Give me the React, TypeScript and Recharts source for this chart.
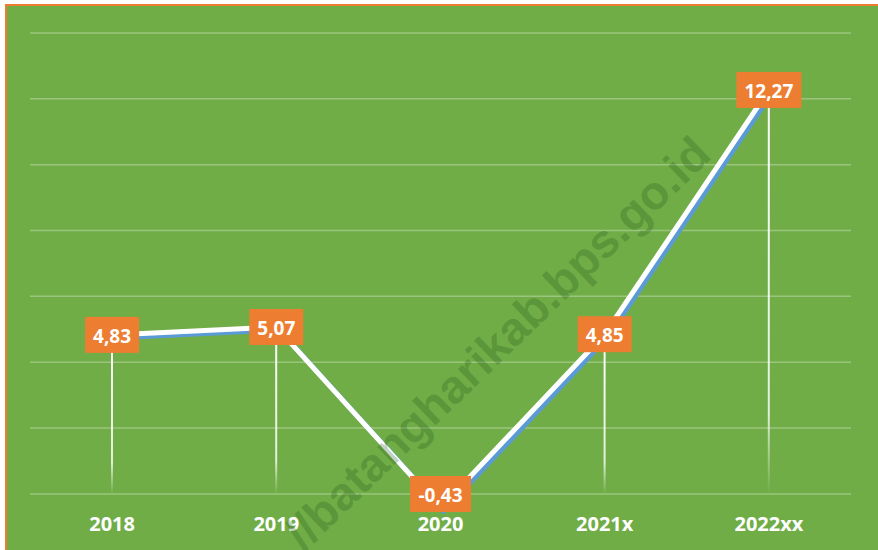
import { ComposedChart, Line, Bar, XAxis, YAxis, CartesianGrid, LabelList } from 'recharts'

const years = ['2018', '2019', '2020', '2021x', '2022xx']
const growth = [4.83, 5.07, -0.43, 4.85, 12.27]
const yTicks = [0, 2, 4, 6, 8, 10, 12, 14]

const data = years.map((year, i) => ({ year, value: growth[i] }))

const GREEN = '#70AD47'
const ORANGE = '#ED7D31'
const BLUE = '#5B9BD5'
const FONT = '"Open Sans", Lato, sans-serif'

const CHART_W = 871
const CHART_H = 544
const X_AXIS_H = 30
const MARGIN = { top: 27, right: 27, bottom: 8, left: 23 }
const PLOT_BOTTOM = CHART_H - MARGIN.bottom - X_AXIS_H
const BOX_H = 36

function fmt(v: number) {
  return v.toFixed(2).replace('.', ',')
}

function ValueLabel(props: any) {
  const { x, y, value } = props
  if (x == null || y == null) return null
  const text = fmt(value)
  const digits = text.replace(/[^0-9]/g, '').length
  const w = digits * 11 + 5 + (text.startsWith('-') ? 7 : 0) + 16
  // keep the box inside the plot area, like Excel does
  const cy = Math.min(y, PLOT_BOTTOM - BOX_H / 2)
  return (
    <g>
      <rect x={x - w / 2} y={cy - BOX_H / 2} width={w} height={BOX_H} fill={ORANGE} />
      <text x={x} y={cy} dy={1} textAnchor="middle" dominantBaseline="central"
        fill="#fff" fontSize={19} fontWeight={700} fontFamily={FONT}>
        {text}
      </text>
    </g>
  )
}

function YearTick(props: any) {
  const { x, y, payload } = props
  return (
    <text x={x} y={y} dy={11} textAnchor="middle" dominantBaseline="central"
      fill="#fff" fontSize={20} fontWeight={700} fontFamily={FONT}>
      {payload.value}
    </text>
  )
}

export default function App() {
  return (
    <div style={{
      position: 'absolute', left: 5, top: 4, width: 873, height: 546,
      boxSizing: 'border-box', borderTop: `2px solid ${ORANGE}`, borderLeft: `2px solid ${ORANGE}`,
      background: GREEN, overflow: 'hidden',
    }}>
      <style>{`.line-shadow { transform: translate(3px, 3px); }`}</style>

      {/* watermark */}
      <div style={{
        position: 'absolute', left: 490, top: 337,
        transform: 'translate(-50%, -50%) rotate(-44deg)',
        whiteSpace: 'nowrap', fontFamily: 'Arial, "Liberation Sans", sans-serif',
        fontWeight: 700, fontSize: 47, color: 'rgba(40, 95, 25, 0.3)',
        pointerEvents: 'none', zIndex: 2,
      }}>
        //batangharikab.bps.go.id
      </div>

      <ComposedChart width={CHART_W} height={CHART_H} data={data} margin={MARGIN}>
        <defs>
          <linearGradient id="dropGrad" x1="0" y1="0" x2="0" y2="1">
            <stop offset="0" stopColor="#fff" stopOpacity={1} />
            <stop offset="0.8" stopColor="#fff" stopOpacity={0.8} />
            <stop offset="1" stopColor="#fff" stopOpacity={0} />
          </linearGradient>
        </defs>
        <CartesianGrid vertical={false} horizontalValues={yTicks}
          stroke="rgba(255,255,255,0.3)" strokeWidth={1.5} />
        <XAxis dataKey="year" height={X_AXIS_H} axisLine={false} tickLine={false}
          tickSize={0} tickMargin={0} tick={<YearTick />} interval={0} />
        <YAxis hide domain={[-0.55, 14]} ticks={yTicks} allowDataOverflow />

        <Bar dataKey="value" barSize={2} fill="url(#dropGrad)" isAnimationActive={false} />

        <Line type="linear" dataKey="value" className="line-shadow" stroke={BLUE}
          strokeWidth={5} dot={false} activeDot={false} isAnimationActive={false} />
        <Line type="linear" dataKey="value" stroke="#fff" strokeWidth={5}
          dot={false} activeDot={false} isAnimationActive={false}>
          <LabelList dataKey="value" content={<ValueLabel />} />
        </Line>
      </ComposedChart>
    </div>
  )
}
